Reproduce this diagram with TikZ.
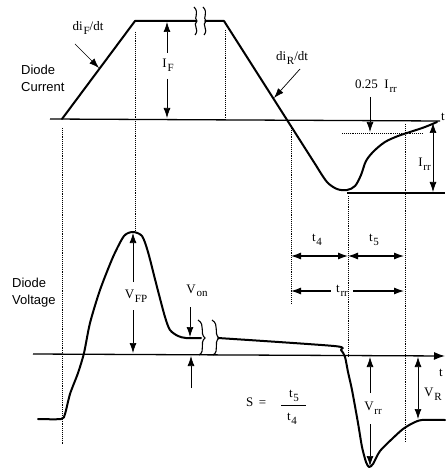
\documentclass[tikz,border=0pt]{standalone}
\usepackage{fontspec}
\setmainfont{Liberation Serif}
\newfontfamily\lsans{Liberation Sans}
\usetikzlibrary{arrows.meta}
\newcommand\dsub[1]{\kern0.8pt\raisebox{-3.5pt}{\fontsize{11}{11}\selectfont#1}}
\begin{document}
\begin{tikzpicture}[x=1pt,y=-1pt,
  wave/.style={line width=2pt, line join=round, line cap=round},
  axisline/.style={line width=1.3pt},
  guide/.style={densely dotted, line width=0.9pt},
  dim/.style={line width=0.7pt},
  dimthick/.style={line width=1.1pt},
  tipend/.style={-{Latex[length=10pt,width=7pt]}},
  tipboth/.style={{Latex[length=10pt,width=7pt]}-{Latex[length=10pt,width=7pt]}},
  lbl/.style={font=\fontsize{13}{14}\selectfont, inner sep=0pt},
  ttl/.style={font=\lsans\fontsize{13}{17}\selectfont, align=left, inner sep=0pt},
  brk/.style={line width=1.1pt}]
\useasboundingbox (0,0) rectangle (445,470);

% ---------- guides ----------
\draw[guide] (62,128) -- (62,445);
\draw[guide] (135,32) -- (135,230);
\draw[guide] (225,30) -- (225,118);
\draw[guide] (291,128) -- (291,303);
\draw[guide] (348,196) -- (348,356);
\draw[guide] (405,124) -- (405,443);
\draw[guide] (342,133) -- (422,133);

% ---------- current ----------
\coordinate (caL) at (50,119);
\coordinate (caR) at (440,121);
\draw[axisline] (caL) -- (caR);
\node[lbl] (tcur) at (443,117) {t};
\node[ttl, anchor=north west] (dcur) at (21,65) {Diode\\Current};

\draw[wave] (62,119) -- (135,21) -- (196,21);
\draw[wave] (205,21) -- (224,21) -- (317,167);
\draw[wave] plot[smooth, tension=0.55] coordinates {(317,167) (327,182) (337,189) (347,190) (355,186) (361,175) (366,161) (374,151) (385,142) (398,136) (410,132) (425,127) (437,122)};
\draw[brk] (194,7) .. controls (200,13) and (193,18) .. (197,21) .. controls (192,25) and (200,29) .. (195,35);
\draw[brk] (203,7) .. controls (209,13) and (202,18) .. (206,21) .. controls (201,25) and (209,29) .. (204,35);
\draw[axisline] (347,193) -- (445,193);

% dI_F/dt
\node[lbl] (dif) at (88,28) {di\dsub{F}/dt};
\coordinate (difT) at (99,68);
\draw[dim, tipend] (75,44) -- (difT);
% di_R/dt
\node[lbl] (dir) at (292,58) {di\dsub{R}/dt};
\coordinate (dirT) at (274,98);
\draw[dim, tipend] (300,69) -- (dirT);

% I_F
\node[lbl] (IF) at (168,65) {I\dsub{F}};
\draw[dim, tipend] (167,53) -- (167,22);
\draw[dim, tipend] (167,79) -- (167,118);

% 0.25 Irr
\node[lbl] (q) at (376,86) {0.25\ \ I\dsub{rr}};
\draw[dim, tipend] (370,97) -- (370,132);

% I_rr
\node[lbl, anchor=east] (Irr) at (431,164) {I\dsub{rr}};
\draw[dim, tipboth] (433,123) -- (433,192);

% ---------- time intervals ----------
\draw[dimthick, tipboth] (291,256) -- (348,256);
\draw[dimthick, tipboth] (348,256) -- (404,256);
\node[lbl] (t4) at (317,240) {t\dsub{4}};
\node[lbl] (t5) at (374,240) {t\dsub{5}};
\node[lbl] (trr) at (342,291) {t\dsub{rr}};
\draw[dimthick, tipend] (trr.west) ++(-5,0) -- (291,291);
\draw[dimthick, tipend] (trr.east) ++(5,0) -- (404,291);

% ---------- voltage ----------
\coordinate (vaL) at (33,354);
\coordinate (vaR) at (445,356);
\draw[axisline, -{Latex[length=11pt,width=8pt]}] (vaL) -- (vaR);
\node[lbl] (tvol) at (441,373) {t};
\node[ttl, anchor=north west] (dvol) at (12,278) {Diode\\Voltage};

\draw[wave] plot[smooth, tension=0.45] coordinates {(38,419) (61,419) (65,414) (70,394) (78,373) (84,353) (90,323) (100,290) (113,257) (124,236) (133,232) (142,236) (148,252) (157,287) (165,317) (170,330) (178,336) (186,338) (201,338)};
\draw[brk] (198,320) .. controls (206,325) and (199,333) .. (205,338) .. controls (199,343) and (206,351) .. (199,355);
\draw[brk] (212,320) .. controls (220,325) and (213,333) .. (219,338) .. controls (213,343) and (220,351) .. (213,355);
\draw[wave] plot[smooth, tension=0.45] coordinates {(218,338) (334,346) (341,350) (345,357) (348,372) (352,390) (358,423) (362,447) (366,462) (369,467) (373,464) (380,451) (393,438) (403,429) (413,423) (422,420) (445,420)};

% V_FP
\node[lbl] (VFP) at (136,296) {V\dsub{FP}};
\draw[dim, tipend] (133,282) -- (133,233);
\draw[dim, tipend] (133,310) -- (133,353);

% V_on
\node[lbl] (Von) at (197,291) {V\dsub{on}};
\draw[dim, tipend] (190,307) -- (190,337);
\draw[dim, tipend] (191,388) -- (191,356);

% V_rr
\node[lbl] (Vrr) at (373,408) {V\dsub{rr}};
\draw[dim, tipend] (370,393) -- (370,357);
\draw[dim, tipend] (370,424) -- (370,466);

% V_R
\node[lbl] (VR) at (433,394) {V\dsub{R}};
\draw[dim, tipboth] (418,357) -- (418,419);

% S = t5/t4
\node[lbl, anchor=west] (S) at (246,402) {S \,=};
\draw[dim] (281,405) -- (306,405);
\node[lbl] (ft5) at (294,396) {t\dsub{5}};
\node[lbl] (ft4) at (292,419) {t\dsub{4}};
\end{tikzpicture}
\end{document}
